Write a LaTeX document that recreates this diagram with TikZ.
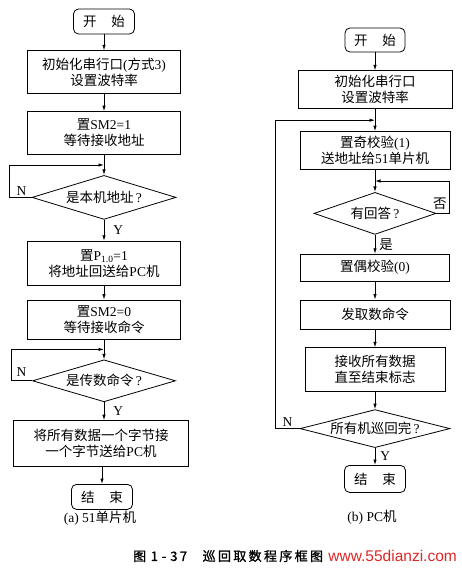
\documentclass[tikz,border=0pt]{standalone}
\usepackage{fontspec}
\setmainfont{Liberation Serif}
\newfontfamily\cjk{Noto Sans CJK SC}
\newfontfamily\cjkcap[FakeBold=1.2,LetterSpace=18]{Noto Sans CJK SC}
\newfontfamily\wmfont{Liberation Sans}
\usepackage{tikz}
\usetikzlibrary{arrows.meta,positioning,calc,shapes.geometric}
\definecolor{WaterRed}{RGB}{222,40,40}
\newcommand{\zh}[1]{{\cjk #1}}
\newcommand{\bodyfont}{\fontsize{13.5}{16}\selectfont}

\begin{document}
\begin{tikzpicture}[
    x=1pt, y=1pt,
    % ── Node styles ──
    term/.style     = {rectangle, rounded corners=5pt, draw, line width=0.8pt,
                       minimum width=61pt, minimum height=25pt,
                       inner sep=1pt, font=\bodyfont},
    proc/.style     = {rectangle, draw, line width=0.8pt,
                       minimum width=153pt, inner sep=1pt,
                       font=\bodyfont, align=center},
    decision/.style = {diamond, draw, line width=0.8pt, inner sep=0pt,
                       font=\bodyfont},
    arr/.style      = {-{Latex[length=5.5pt,width=3.4pt]}, line width=0.8pt},
    lbl/.style      = {font=\bodyfont, inner sep=2pt},
    capt/.style     = {font=\bodyfont},
]
\useasboundingbox (0,0) rectangle (461,-572);

% =====================================================================
%  (a) 51 SINGLE-CHIP SIDE
% =====================================================================
\node[term] (startA) at (104,-21.5) {\zh{开}\hspace{1.1em}\zh{始}};
\node[proc, minimum height=43pt, below=16pt of startA] (initA)
    {\zh{初始化串行口}(\zh{方式}3)\\ \zh{设置波特率}};
\node[proc, minimum height=43pt, below=17pt of initA] (sm1)
    {\zh{置}SM2=1\\ \zh{等待接收地址}};
\node[decision, minimum width=144pt, minimum height=44pt, below=20pt of sm1] (isaddr)
    {\makebox[0pt]{\zh{是本机地址}\,?}};
\node[proc, minimum height=44pt, below=21pt of isaddr] (setp)
    {\zh{置}P\textsubscript{1.0}=1\\ \zh{将地址回送给}PC\zh{机}};
\node[proc, minimum height=39pt, below=14pt of setp] (sm0)
    {\zh{置}SM2=0\\ \zh{等待接收命令}};
\node[decision, minimum width=143pt, minimum height=42pt, below=20pt of sm0] (iscmd)
    {\makebox[0pt]{\zh{是传数命令}\,?}};
\node[proc, minimum width=175pt, minimum height=46pt, below=18pt of iscmd, xshift=-3pt] (sendall)
    {\zh{将所有数据一个字节接}\\ \zh{一个字节送给}PC\zh{机}};
\node[term, below=17pt of sendall, xshift=1pt] (endA) {\zh{结}\hspace{1.1em}\zh{束}};
\node[capt] (capA) at (100,-518) {(a) 51\zh{单片机}};

\draw[arr] (startA) -- (initA);
\draw[arr] (initA)  -- (sm1);
\draw[arr] (sm1)    -- (isaddr);
\draw[arr] (isaddr) -- node[lbl, right, xshift=7pt] {Y} (setp);
\draw[arr] (setp)   -- (sm0);
\draw[arr] (sm0)    -- (iscmd);
\draw[arr] (iscmd.south) -- node[lbl, right, xshift=7pt] {Y} (iscmd.south |- sendall.north);
\draw[arr] (sendall.south -| endA) -- (endA.north);

% ── N loops back to the wait lines
\coordinate (jA1) at ($(sm1.south)!0.5!(isaddr.north)$);
\draw[arr] (isaddr.west) -- node[lbl, above, xshift=1pt] {N} ++(-22pt,0) |- (jA1);
\coordinate (jA2) at ($(sm0.south)!0.5!(iscmd.north)$);
\draw[arr] (iscmd.west) -- node[lbl, above, yshift=2pt] {N} ++(-21pt,0) |- (jA2);

% =====================================================================
%  (b) PC SIDE
% =====================================================================
\node[term, minimum width=60pt, minimum height=24pt] (startB) at (375,-40)
    {\zh{开}\hspace{1.1em}\zh{始}};
\node[proc, minimum width=154pt, minimum height=38pt, below=18pt of startB] (initB)
    {\zh{初始化串行口}\\ \zh{设置波特率}};
\node[proc, minimum width=150pt, minimum height=38pt, below=22pt of initB] (oddchk)
    {\zh{置奇校验}(1)\\ \zh{送地址给}51\zh{单片机}};
\node[decision, minimum width=122pt, minimum height=42pt, below=22pt of oddchk] (answer)
    {\makebox[0pt]{\zh{有回答}\,?}};
\node[proc, minimum width=149pt, minimum height=27pt, below=19pt of answer] (evenchk)
    {\zh{置偶校验}(0)};
\node[proc, minimum width=150pt, minimum height=29pt, below=18pt of evenchk] (fetchcmd)
    {\zh{发取数命令}};
\node[proc, minimum width=140pt, minimum height=44pt, below=18pt of fetchcmd] (recvall)
    {\zh{接收所有数据}\\ \zh{直至结束标志}};
\node[decision, minimum width=150pt, minimum height=38pt, below=17pt of recvall] (alldone)
    {\makebox[0pt]{\zh{所有机巡回完}\,?}};
\node[term, minimum height=27pt, below=17pt of alldone] (endB) {\zh{结}\hspace{1.1em}\zh{束}};
\node[capt] (capB) at (372,-517) {(b) PC\zh{机}};

\draw[arr] (startB)   -- (initB);
\draw[arr] (initB)    -- (oddchk);
\draw[arr] (oddchk)   -- (answer);
\draw[arr] (answer)   -- node[lbl, right, xshift=2pt] {\zh{是}} (evenchk);
\draw[arr] (evenchk)  -- (fetchcmd);
\draw[arr] (fetchcmd) -- (recvall);
\draw[arr] (recvall)  -- (alldone);
\draw[arr] (alldone)  -- node[lbl, right, xshift=3pt] {Y} (endB);

% ── retry and next-machine loops
\coordinate (jB1) at ($(oddchk.south)!0.5!(answer.north)$);
\draw[arr] (answer.east) -- node[lbl, above, xshift=-3pt, yshift=1pt] {\zh{否}} ++(13pt,0) |- (jB1);
\coordinate (jB2) at ($(initB.south)!0.5!(oddchk.north)$);
\draw[arr] (alldone.west) -- node[lbl, above] {N} ++(-24pt,0) |- (jB2);

% =====================================================================
%  FIGURE CAPTION
% =====================================================================
\node[anchor=west, inner sep=0pt, font=\fontsize{13}{15}\selectfont\cjkcap] (figcap) at (133,-556)
    {图\hspace{0.35em}1\hspace{0.3em}-\hspace{0.3em}37\hspace{1.2em}巡回取数程序框图};
\node[anchor=east, inner xsep=3pt, inner ysep=2pt, fill=white, fill opacity=0.8, text opacity=1,
      text=WaterRed, font=\fontsize{15.5}{16}\selectfont\wmfont] (watermark) at (460,-556)
    {www.55dianzi.com};

\end{tikzpicture}
\end{document}
